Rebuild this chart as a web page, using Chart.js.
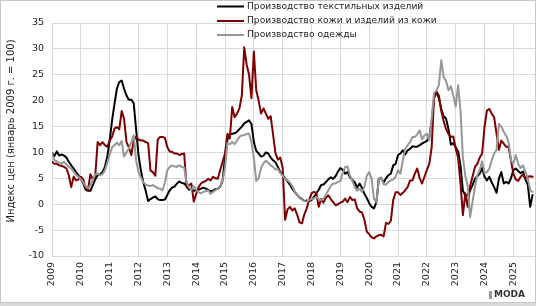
<!DOCTYPE html>
<html lang="ru">
<head>
<meta charset="UTF-8">
<script src="https://cdn.jsdelivr.net/npm/chart.js@4/dist/chart.umd.min.js"></script>
<style>
  html, body { margin: 0; padding: 0; background: #fff; }
  #wrap { width: 536px; height: 306px; }
</style>
</head>
<body>
<div id="wrap"><canvas id="grafico"></canvas></div>
<script>
// подписи оси X (январь каждого года) и названия рядов
const years = [2009, 2010, 2011, 2012, 2013, 2014, 2015, 2016, 2017, 2018, 2019, 2020, 2021, 2022, 2023, 2024, 2025];
const seriesNames = ['Производство текстильных изделий', 'Производство кожи и изделий из кожи', 'Производство одежды'];
const yTitle = 'Индекс цен (январь 2009 г. = 100)';

// помесячные значения, январь 2009 - сентябрь 2025
const textile = [
  9.9, 9.3, 10.2, 9.4, 9.6, 9.4, 9.0, 8.2, 7.5, 6.9, 6.2, 5.6,
  4.9, 4.0, 2.8, 2.6, 2.6, 3.7, 4.8, 5.6, 5.8, 6.2, 7.2, 9.1,
  12.3, 16.2, 19.4, 22.3, 23.6, 23.9, 22.3, 21.0, 20.2, 20.2, 19.5, 14.5,
  9.5, 6.5, 4.2, 2.6, 0.6, 1.0, 1.3, 1.5, 1.0, 0.8, 0.8, 0.9,
  1.8, 2.7, 3.2, 3.4, 4.0, 4.4, 4.1, 4.0, 3.5, 2.8, 3.0, 2.6,
  2.7, 2.8, 3.0, 3.2, 3.0, 2.8, 2.5, 2.6, 2.9, 3.0, 3.4, 4.6,
  9.0, 12.5, 13.5, 13.6, 13.7, 14.0, 14.5, 15.0, 15.6, 15.9, 16.2, 15.5,
  12.0, 10.3, 9.8, 9.2, 9.4, 10.0, 9.8, 9.0, 8.5, 8.1, 7.2, 6.2,
  5.6, 5.0, 4.4, 3.8, 3.0, 2.4, 1.8, 1.3, 1.0, 0.6, 0.7, 0.6,
  0.8, 1.4, 2.1, 2.8, 3.7, 3.8, 4.3, 4.8, 5.2, 4.9, 5.4, 6.3,
  7.0, 6.6, 5.9, 6.2, 5.2, 4.7, 4.2, 3.2, 4.0, 3.2, 2.0, 1.2,
  0.2, -0.5, -0.8, 0.4, 4.9, 5.0, 4.2, 5.0, 5.6, 5.9, 7.5, 7.8,
  9.5, 9.8, 10.4, 9.6, 10.4, 10.7, 11.2, 11.1, 11.1, 11.4, 11.7, 12.0,
  12.2, 13.0, 16.0, 20.5, 21.7, 20.5, 18.4, 17.0, 16.5, 14.5, 11.5, 11.8,
  11.0, 10.2, 7.5, 2.6, 1.7, 1.8, 2.7, 3.7, 4.9, 5.4, 5.9, 7.0,
  5.3, 4.6, 5.3, 4.2, 3.3, 2.2, 5.0, 6.2, 4.0, 4.3, 4.0, 5.0,
  6.6, 6.9, 6.4, 6.0, 6.3, 4.8, 3.8, -0.5, 1.8
];

const leather = [
  8.2, 7.8, 7.8, 7.5, 7.4, 7.2, 6.9, 5.6, 3.3, 5.3, 4.6, 4.8,
  5.3, 4.8, 3.0, 2.8, 5.8, 4.8, 5.5, 12.0, 11.4, 12.0, 11.4, 11.1,
  12.3, 13.0, 14.6, 14.9, 14.5, 18.0, 16.5, 12.0, 11.0, 9.5, 12.3, 13.0,
  12.5, 12.3, 12.3, 12.0, 11.8, 6.5, 6.2, 5.5, 12.5, 13.0, 13.0, 12.8,
  11.0, 10.2, 10.1, 9.8, 9.8, 9.5, 9.7, 9.8, 3.3, 3.7, 4.0, 0.5,
  2.0, 3.3, 4.0, 4.3, 4.5, 4.9, 4.6, 5.3, 5.0, 4.9, 6.6, 8.2,
  9.8, 13.6, 12.7, 18.8, 16.8, 17.5, 18.5, 21.0, 30.3, 27.0, 25.0, 20.5,
  29.5, 22.0, 20.0, 17.5, 18.5, 17.5, 16.5, 17.0, 13.5, 9.8, 8.6, 9.0,
  7.0, -3.0, -1.0, -0.5, -1.2, -0.8, -2.0, -3.5, -3.7, -2.0, -0.8, 0.8,
  2.1, 2.4, 2.2, -0.5, 1.0, 0.3, 1.3, 1.7, 1.0, 0.4, -0.2, 0.0,
  0.3, 0.5, 1.1, 0.4, 1.4, 0.8, 0.9, -0.8, -1.4, -1.6, -3.0, -5.3,
  -5.8, -6.4, -6.6, -6.2, -6.0, -5.9, -6.2, -3.6, -3.8, -3.2, 0.8, 2.3,
  2.3, 1.8, 2.2, 2.7, 3.3, 4.6, 4.6, 5.9, 6.9, 5.0, 4.0, 5.3,
  6.6, 7.8, 11.0, 20.7, 21.7, 21.0, 18.0, 16.0, 14.5, 13.6, 13.0, 13.1,
  10.7, 9.0, 4.0, -2.1, 2.1, -0.5, 3.5, 5.3, 7.2, 7.8, 9.0, 9.8,
  15.0, 18.1, 18.4, 17.5, 16.8, 13.6, 10.5, 12.3, 11.7, 11.1, 11.1, 8.5,
  5.9, 4.8, 4.5, 5.3, 5.7, 5.0, 5.3, 5.4, 5.3
];

const clothing = [
  9.8, 8.5, 8.3, 8.0, 7.8, 8.2, 7.7, 7.2, 6.9, 6.3, 5.7, 5.3,
  4.8, 4.2, 3.5, 3.1, 3.6, 4.8, 5.8, 5.9, 5.6, 5.8, 6.5, 8.0,
  9.5, 11.0, 11.4, 11.9, 11.4, 12.2, 9.2, 10.0, 10.8, 12.0, 13.3, 8.5,
  6.2, 5.2, 4.2, 3.8, 3.6, 3.5, 3.7, 3.4, 3.1, 3.0, 2.7, 4.2,
  6.6, 7.2, 7.5, 7.3, 7.2, 7.5, 7.2, 7.1, 4.3, 3.2, 2.7, 3.5,
  2.8, 2.3, 2.1, 2.4, 2.5, 2.7, 2.0, 2.4, 2.7, 3.0, 3.5, 4.6,
  7.0, 11.8, 11.6, 12.0, 11.6, 12.3, 13.0, 13.3, 13.3, 13.6, 13.6, 12.0,
  9.0, 4.5, 5.0, 7.0, 7.9, 8.4, 8.0, 7.5, 7.2, 6.7, 6.8, 6.0,
  5.5, 4.9, 4.6, 4.2, 3.5, 2.5, 1.8, 1.2, 0.9, 0.6, 0.5, 0.8,
  1.0, 1.1, 1.4, 1.0, 0.8, 1.1, 1.8, 2.7, 3.5, 4.0, 4.0, 4.3,
  4.5, 6.0, 7.2, 7.3, 5.5, 4.5, 3.3, 2.6, 3.0, 2.4, 3.3, 5.5,
  6.2, 5.0, 1.0, 0.4, 4.8, 5.2, 3.8, 3.8, 4.3, 4.6, 4.8, 5.3,
  6.6, 5.9, 8.5, 10.7, 11.4, 12.0, 13.0, 13.0, 13.5, 14.3, 12.5, 13.3,
  13.6, 12.3, 16.5, 21.5, 22.0, 23.0, 27.8, 24.5, 23.8, 22.0, 22.8, 21.0,
  18.8, 23.0, 18.0, 9.0, 5.5, 3.5, -2.5, 0.5, 3.3, 5.6, 6.6, 8.3,
  6.0, 6.2, 6.9, 8.5, 9.8, 10.5, 15.5, 15.0, 14.0, 13.2, 12.0, 8.5,
  7.8, 9.5, 7.8, 7.0, 7.5, 6.3, 5.0, 2.7, 2.4
];

const colors = ['#000000', '#7f0000', '#969696'];
const font = 'DejaVu Sans';

function toPoints(arr) {
  return arr.map(function (v, i) { return { x: i, y: v }; });
}

// легенда, подпись оси Y, рамка и логотип рисуются вручную
const decor = {
  id: 'decor',
  beforeDraw(chart) {
    const c = chart.ctx;
    c.save();
    c.fillStyle = '#ffffff';
    c.fillRect(0, 0, 536, 306);
    c.fillStyle = '#d9d9d9';
    c.fillRect(0, 303, 536, 3);
    c.strokeStyle = '#c8c8c8';
    c.lineWidth = 1;
    c.strokeRect(0.5, 0.5, 535, 302);
    c.restore();
  },
  afterDraw(chart) {
    const c = chart.ctx;
    c.save();
    // подпись оси Y
    c.translate(11, 131);
    c.rotate(-Math.PI / 2);
    c.fillStyle = '#222';
    c.font = '10px "' + font + '"';
    c.textAlign = 'center';
    c.textBaseline = 'middle';
    c.fillText(yTitle, 0, 0);
    c.restore();

    // легенда: размер шрифта подгоняется под ширину второй строки (~190px)
    c.save();
    const rows = [6.5, 21, 35];
    c.font = '10px "' + font + '"';
    let size = 10 * 190 / c.measureText(seriesNames[1]).width;
    c.font = size.toFixed(2) + 'px "' + font + '"';
    c.textBaseline = 'middle';
    c.textAlign = 'left';
    seriesNames.forEach(function (name, k) {
      c.strokeStyle = colors[k];
      c.lineWidth = 2;
      c.beginPath();
      c.moveTo(217, rows[k]);
      c.lineTo(244, rows[k]);
      c.stroke();
      c.fillStyle = '#222';
      c.fillText(name, 247, rows[k]);
    });

    // логотип
    c.fillStyle = '#333';
    c.font = 'bold 9px "' + font + '"';
    c.textAlign = 'right';
    c.fillText('MODA', 525, 295);
    c.fillStyle = '#999';
    c.fillRect(489, 291, 3, 8);
    c.restore();
  }
};

const data = {
  datasets: [
    { label: seriesNames[0], data: toPoints(textile), borderColor: colors[0], order: 2 },
    { label: seriesNames[1], data: toPoints(leather), borderColor: colors[1], order: 1 },
    { label: seriesNames[2], data: toPoints(clothing), borderColor: colors[2], order: 0 }
  ]
};

const options = {
  responsive: false,
  animation: false,
  layout: { padding: { top: 23, right: 1, left: 0, bottom: 0 } },
  elements: {
    point: { radius: 0 },
    line: { borderWidth: 2, tension: 0, borderCapStyle: 'round', borderJoinStyle: 'round' }
  },
  plugins: { legend: { display: false }, tooltip: { enabled: false } },
  scales: {
    x: {
      type: 'linear',
      min: 0,
      max: 201,
      afterBuildTicks: function (s) {
        s.ticks = years.map(function (y, k) { return { value: k * 12 }; });
      },
      afterFit: function (s) { s.height = 50; },
      grid: { color: '#d9d9d9', lineWidth: 1, drawTicks: false },
      border: { display: false },
      ticks: {
        autoSkip: false,
        minRotation: 90,
        maxRotation: 90,
        padding: 6,
        color: '#222',
        font: { family: font, size: 9.5 },
        callback: function (v) { return String(years[0] + v / 12); }
      }
    },
    y: {
      min: -10,
      max: 35,
      afterFit: function (s) { s.width = 52; },
      grid: { color: '#d9d9d9', lineWidth: 1, drawTicks: false },
      border: { display: false },
      ticks: {
        stepSize: 5,
        padding: 8,
        color: '#222',
        font: { family: font, size: 9.5 }
      }
    }
  }
};

const cv = document.getElementById('grafico');
cv.width = 536;
cv.height = 306;
new Chart(cv, { type: 'line', data: data, options: options, plugins: [decor] });
</script>
</body>
</html>
